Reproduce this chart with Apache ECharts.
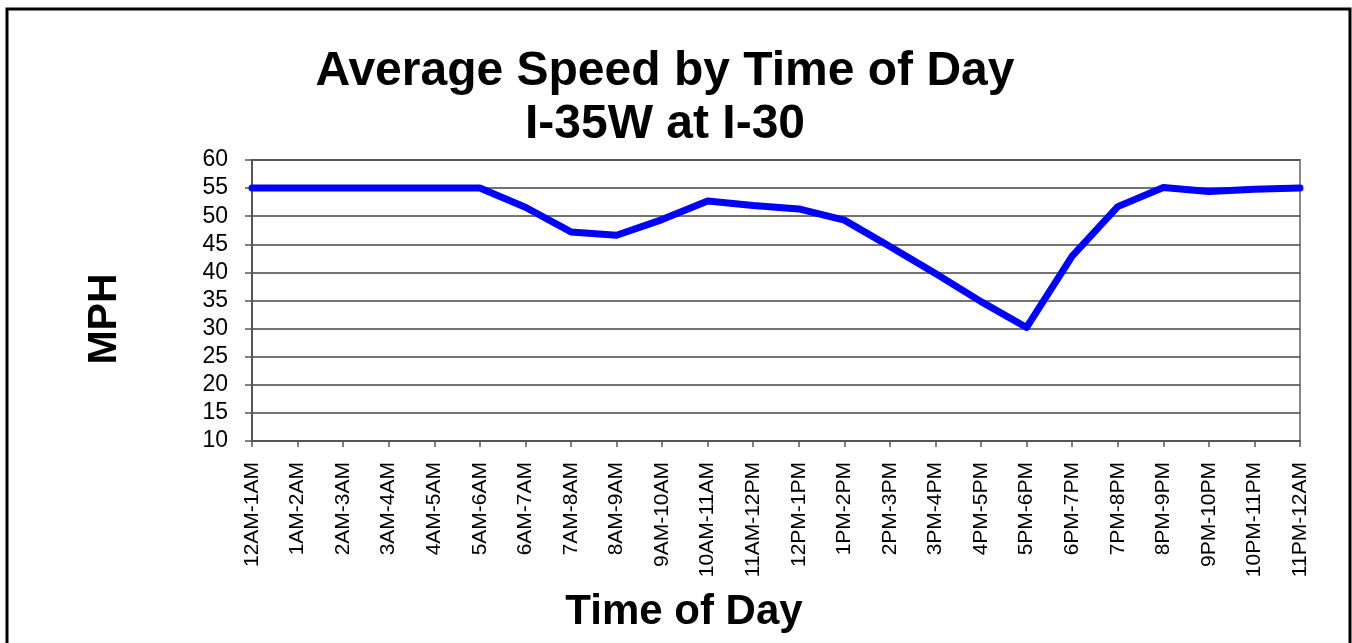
<!DOCTYPE html>
<html>
<head>
<meta charset="utf-8">
<script src="https://cdn.jsdelivr.net/npm/echarts@6/dist/echarts.min.js"></script>
<style>
html,body{margin:0;padding:0;background:#fff;}
#chart{width:1352px;height:643px;}
</style>
</head>
<body>
<div id="chart"></div>
<script>
var categories = ['12AM-1AM','1AM-2AM','2AM-3AM','3AM-4AM','4AM-5AM','5AM-6AM','6AM-7AM','7AM-8AM','8AM-9AM','9AM-10AM','10AM-11AM','11AM-12PM','12PM-1PM','1PM-2PM','2PM-3PM','3PM-4PM','4PM-5PM','5PM-6PM','6PM-7PM','7PM-8PM','8PM-9PM','9PM-10PM','10PM-11PM','11PM-12AM'];
var speeds = [55, 55, 55, 55, 55, 55, 51.6, 47.2, 46.6, 49.4, 52.7, 51.9, 51.3, 49.3, 44.6, 39.8, 34.8, 30.2, 42.9, 51.7, 55.1, 54.4, 54.8, 55];
var titleLines = ['Average Speed by Time of Day', 'I-35W at I-30'];
var yName = 'MPH';
var xName = 'Time of Day';

var font = '"Liberation Sans", Arial, sans-serif';
var chart = echarts.init(document.getElementById('chart'), null, {renderer: 'canvas'});
chart.setOption({
  animation: false,
  backgroundColor: '#ffffff',
  title: {
    text: titleLines.join('\n'),
    left: 660,
    top: 40,
    textAlign: 'center',
    textStyle: {fontFamily: font, fontWeight: 'bold', fontSize: 48, lineHeight: 53, color: '#000'}
  },
  graphic: [
    {type: 'rect', z: 100, silent: true, shape: {x: 7, y: 9, width: 1343, height: 700},
     style: {fill: 'none', stroke: '#000', lineWidth: 3}},
    {type: 'text', z: 100, silent: true, x: 105, y: 319, rotation: Math.PI / 2,
     style: {text: yName, fontFamily: font, fontWeight: 'bold', fontSize: 41, fill: '#000', align: 'center', verticalAlign: 'middle'}},
    {type: 'text', z: 100, silent: true, x: 684, y: 612,
     style: {text: xName, fontFamily: font, fontWeight: 'bold', fontSize: 42, fill: '#000', align: 'center', verticalAlign: 'middle'}}
  ],
  grid: {left: 252, right: 52, top: 160, bottom: 202, show: true, borderColor: '#888', borderWidth: 2, containLabel: false},
  xAxis: {
    type: 'category',
    data: categories,
    boundaryGap: false,
    axisLine: {show: true, lineStyle: {color: '#555', width: 2}},
    axisTick: {show: true, inside: false, length: 6, interval: 0, lineStyle: {color: '#555', width: 1.5}},
    axisLabel: {interval: 0, rotate: 90, margin: 21, fontFamily: font, fontSize: 21, color: '#000'},
    splitLine: {show: false}
  },
  yAxis: {
    type: 'value',
    min: 10,
    max: 60,
    interval: 5,
    axisLine: {show: true, lineStyle: {color: '#555', width: 2}},
    axisTick: {show: true, inside: false, length: 7, lineStyle: {color: '#555', width: 1.5}},
    axisLabel: {margin: 24, fontFamily: font, fontSize: 23, color: '#000'},
    splitLine: {show: true, lineStyle: {color: '#444', width: 1.5}}
  },
  series: [{
    type: 'line',
    data: speeds,
    symbol: 'none',
    lineStyle: {color: '#0000FF', width: 7, join: 'round', cap: 'round'},
    itemStyle: {color: '#0000FF'}
  }]
});
</script>
</body>
</html>
